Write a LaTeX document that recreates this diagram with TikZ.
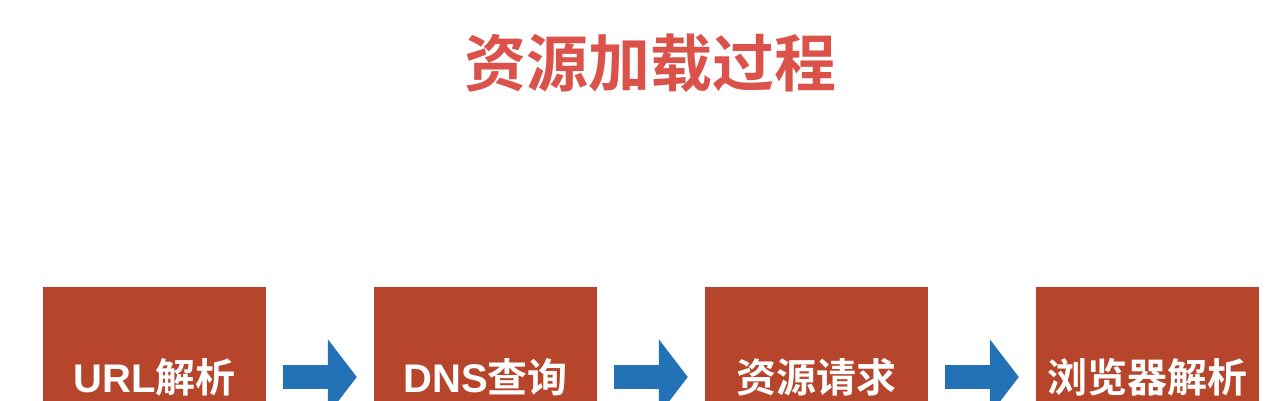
\documentclass[tikz,border=0pt]{standalone}
\usepackage{fontspec}
\setmainfont{Liberation Sans}
\newfontfamily\cjk{Noto Sans CJK SC}[BoldFont={Noto Sans CJK SC Bold}]
\usetikzlibrary{arrows.meta}
\definecolor{boxred}{RGB}{182,69,43}
\definecolor{titlered}{RGB}{218,82,74}
\definecolor{arrowblue}{RGB}{36,114,182}
\tikzset{
  stepbox/.style={fill=boxred, draw=none, minimum width=223pt, minimum height=180pt,
    inner sep=0pt, text=white, font=\fontsize{40}{40}\selectfont\bfseries},
  blockarrow/.style={draw=arrowblue, line width=24pt, shorten <=17pt, shorten >=17pt,
    -{Triangle[length=29pt, width=74pt, fill=arrowblue]}},
}
\begin{document}
\begin{tikzpicture}[x=1pt, y=-1pt]
\useasboundingbox (0,0) rectangle (1284,400);
\clip (0,0) rectangle (1284,400);
\fill[white] (0,0) rectangle (1284,400);
\node[text=titlered, font=\fontsize{62}{62}\selectfont\cjk\bfseries, inner sep=0pt] (title) at (650,63) {资源加载过程};
\node[stepbox] (b1) at (154.5,377) {URL{\cjk 解析}};
\node[stepbox] (b2) at (485.5,377) {DNS{\cjk 查询}};
\node[stepbox] (b3) at (816.5,377) {{\cjk 资源请求}};
\node[stepbox] (b4) at (1147.5,377) {{\cjk 浏览器解析}};
\draw[blockarrow] (b1.east) -- (b2.west);
\draw[blockarrow] (b2.east) -- (b3.west);
\draw[blockarrow] (b3.east) -- (b4.west);
\end{tikzpicture}
\end{document}
